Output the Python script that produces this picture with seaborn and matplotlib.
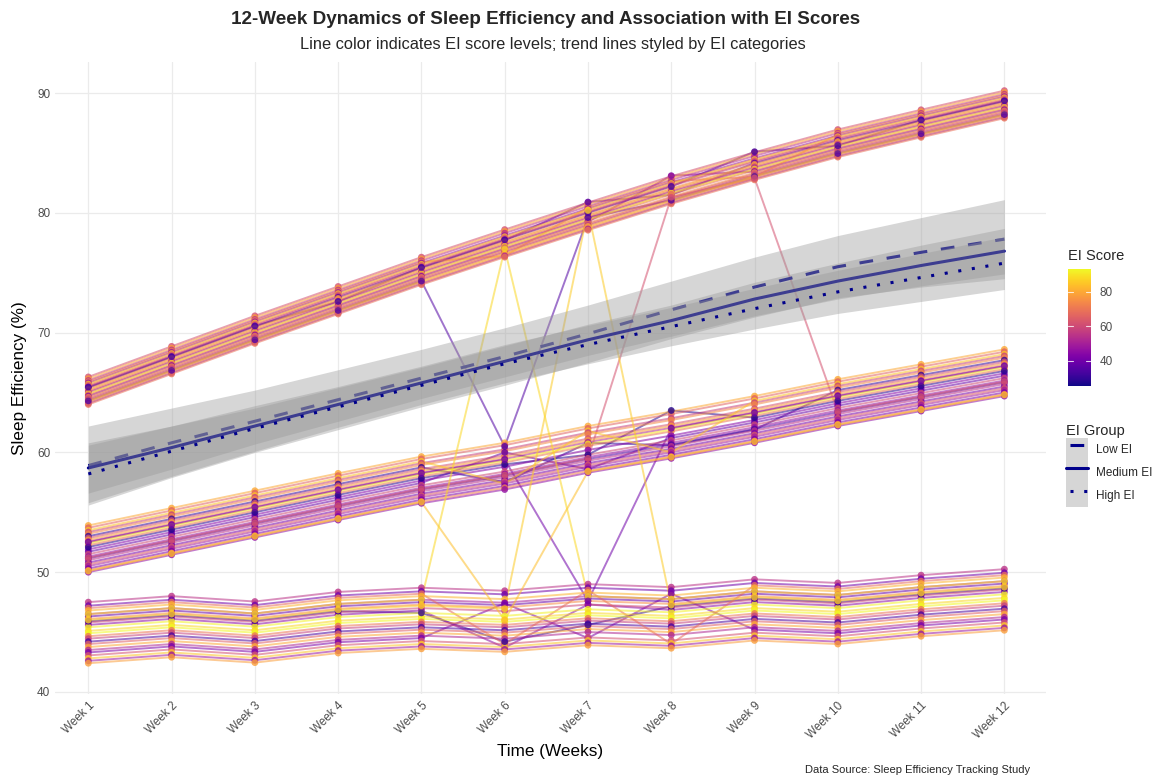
import matplotlib
matplotlib.use("Agg")
import matplotlib.pyplot as plt
import matplotlib.cm as cm
from matplotlib.colors import Normalize
from matplotlib.lines import Line2D
from matplotlib.patches import Patch
from matplotlib.legend_handler import HandlerTuple
import pandas as pd
import seaborn as sns

# ---------------- data ----------------
weeks = list(range(1, 13))
week_labels = [f"Week {i}" for i in weeks]

# cluster centre trajectories (sleep efficiency, %)
top_base = [65.2, 67.75, 70.3, 72.75, 75.2, 77.5, 79.75, 81.95, 83.95, 85.85, 87.5, 89.1]
mid_base = [52.0, 53.45, 54.9, 56.35, 57.75, 58.9, 60.3, 61.5, 62.8, 64.2, 65.45, 66.7]
bot_base = [45.0, 45.5, 45.05, 45.85, 46.2, 45.95, 46.5, 46.25, 46.9, 46.6, 47.25, 47.75]

# subject offsets from the cluster centre and their EI scores
top_offsets = [1.1, 0.95, 0.8, 0.7, 0.6, 0.5, 0.4, 0.3, 0.2, 0.1, 0.0, -0.1,
               -0.2, -0.3, -0.4, -0.5, -0.6, -0.7, -0.8, -0.9, -1.0, -1.1, -1.2, 0.25]
top_ei = [62, 78, 55, 70, 48, 84, 66, 58, 36, 74, 80, 60,
          52, 88, 68, 44, 72, 64, 57, 82, 76, 50, 69, 33]

mid_offsets = [1.9, 1.7, 1.5, 1.35, 1.2, 1.0, 0.85, 0.7, 0.55, 0.4, 0.25, -0.1,
               -0.3, -0.5, -0.7, -0.85, -1.0, -1.2, -1.35, -1.5, -1.7, -1.85, -2.0, 0.1]
mid_ei = [80, 66, 85, 58, 74, 30, 62, 78, 52, 90, 70, 44,
          38, 60, 47, 35, 55, 41, 64, 50, 42, 72, 46, 28]

bot_offsets = [2.5, 2.2, 2.0, 1.8, 1.5, 1.3, 1.1, 0.8, 0.6, 0.4, 0.1, -0.1,
               -0.35, -0.55, -0.8, -1.0, -1.25, -1.5, -1.7, -1.95, -2.2, -2.4, -2.6, 0.9]
bot_ei = [55, 40, 68, 82, 50, 38, 75, 60, 45, 92, 88, 94,
          70, 58, 33, 65, 80, 52, 42, 62, 85, 48, 78, 30]

# individual week values that depart from a subject's usual track: (cluster, subject, week, value)
tweaks = [
    ("top", 8, 7, 80.9), ("top", 8, 8, 81.5),
    ("top", 3, 6, 76.4), ("top", 3, 9, 83.0),
    ("top", 23, 4, 72.6), ("top", 23, 9, 85.1), ("top", 23, 10, 85.6),
    ("top", 15, 8, 83.1),
    ("mid", 5, 6, 57.5), ("mid", 5, 7, 60.8), ("mid", 5, 8, 60.6), ("mid", 5, 9, 61.9),
    ("mid", 23, 7, 59.8), ("mid", 23, 8, 63.5),
    ("mid", 12, 6, 60.0), ("mid", 12, 7, 58.6),
    ("mid", 2, 6, 57.4), ("mid", 2, 8, 60.0),
    ("bot", 8, 6, 43.7), ("bot", 8, 7, 47.3),
    ("bot", 23, 5, 46.6), ("bot", 23, 6, 44.2), ("bot", 23, 7, 45.6),
    ("bot", 18, 6, 47.4), ("bot", 18, 7, 44.5), ("bot", 18, 8, 48.2),
    ("bot", 2, 6, 44.0), ("bot", 2, 8, 44.0),
]

# subjects that jump between clusters
jump_values = [
    [64.3, 66.85, 69.4, 71.85, 74.3, 60.5, 79.6, 81.05, 83.05, 84.95, 86.6, 88.2],
    [46.5, 47.0, 46.55, 47.35, 47.7, 77.0, 48.0, 47.75, 48.4, 48.1, 48.75, 49.25],
    [50.1, 51.55, 53.0, 54.45, 55.85, 46.0, 58.4, 59.6, 60.9, 62.3, 63.55, 64.8],
    [46.0, 46.5, 46.05, 46.85, 47.2, 46.95, 80.2, 47.25, 47.9, 47.6, 48.25, 48.75],
    [52.5, 53.95, 55.4, 56.85, 58.25, 59.4, 47.6, 62.0, 63.3, 64.7, 65.95, 67.2],
    [51.2, 52.65, 54.1, 55.55, 56.95, 58.1, 59.5, 81.3, 82.9, 63.4, 64.65, 65.9],
]
jump_ei = [35, 88, 84, 86, 40, 62]

# loess trend lines per EI group and their confidence half-widths
ei_groups = ["Low EI", "Medium EI", "High EI"]
trend_low = [58.9, 60.8, 62.6, 64.4, 66.2, 68.0, 69.9, 71.9, 73.8, 75.5, 76.7, 77.8]
trend_med = [58.7, 60.4, 62.2, 64.0, 65.8, 67.6, 69.4, 71.0, 72.8, 74.3, 75.6, 76.8]
trend_high = [58.2, 60.1, 62.0, 63.8, 65.6, 67.4, 69.0, 70.5, 72.0, 73.4, 74.6, 75.8]
ci_low = [3.3, 2.9, 2.6, 2.5, 2.4, 2.4, 2.4, 2.4, 2.5, 2.6, 2.9, 3.3]
ci_med = [2.1, 1.8, 1.5, 1.4, 1.3, 1.3, 1.3, 1.3, 1.4, 1.5, 1.7, 1.9]
ci_high = [2.4, 2.1, 1.9, 1.7, 1.6, 1.6, 1.6, 1.6, 1.7, 1.8, 2.0, 2.2]

ei_min, ei_max = 25.5, 93.3
colorbar_ticks = [40, 60, 80]

# ---------------- build long table ----------------
records = []
sid = 0


def add_subject(vals, ei):
    global sid
    for w, v in zip(weeks, vals):
        records.append({"subject": sid, "week": w, "eff": v, "ei": ei})
    sid += 1


for name, base, offs, eis in [("top", top_base, top_offsets, top_ei),
                              ("mid", mid_base, mid_offsets, mid_ei),
                              ("bot", bot_base, bot_offsets, bot_ei)]:
    for i, (o, e) in enumerate(zip(offs, eis)):
        vals = [b + o for b in base]
        for c, idx, wk, val in tweaks:
            if c == name and idx == i:
                vals[wk - 1] = val
        add_subject(vals, e)

for vals, e in zip(jump_values, jump_ei):
    add_subject(vals, e)

df = pd.DataFrame(records)

# ---------------- plot ----------------
sns.set_theme(style="white")
plt.rcParams["font.family"] = ["Liberation Sans", "DejaVu Sans"]

W, H = 1158, 778
fig = plt.figure(figsize=(W / 100, H / 100), dpi=100)
pl, pr, pt, pb = 55, 1046, 62, 694
ax = fig.add_axes([pl / W, 1 - pb / H, (pr - pl) / W, (pb - pt) / H])

norm = (ei_min, ei_max)
sns.lineplot(data=df, x="week", y="eff", hue="ei", units="subject", estimator=None,
             palette="plasma", hue_norm=norm, alpha=0.55, linewidth=1.4,
             legend=False, ax=ax, sort=False)
sns.scatterplot(data=df, x="week", y="eff", hue="ei", palette="plasma", hue_norm=norm,
                s=24, alpha=0.8, linewidth=0, legend=False, ax=ax, zorder=3)

styles = {"Low EI": (0, (4.5, 4.5)), "Medium EI": "-", "High EI": (0, (1, 3.5))}
key_styles = {"Low EI": (7.7, (4.5, 4.5)), "Medium EI": "-", "High EI": (3.2, (1, 3.5))}
trends = {"Low EI": (trend_low, ci_low), "Medium EI": (trend_med, ci_med),
          "High EI": (trend_high, ci_high)}
z = 4
for g in ei_groups:
    m, h = trends[g]
    lo = [a - b for a, b in zip(m, h)]
    hi = [a + b for a, b in zip(m, h)]
    ax.fill_between(weeks, lo, hi, color="#999999", alpha=0.4, linewidth=0, zorder=z)
    sns.lineplot(x=weeks, y=m, color="#00008B", linewidth=2.2, ax=ax, zorder=z + 0.5,
                 linestyle=styles[g], dash_capstyle="butt")
    z += 1

ax.set_xlim(0.6, 12.5)
ax.set_ylim(39.83, 92.59)
ax.set_xticks(weeks)
ax.set_xticklabels(week_labels, rotation=45, ha="right", rotation_mode="anchor")
ax.set_yticks([40, 50, 60, 70, 80, 90])
ax.tick_params(axis="both", length=0, labelsize=8.5, labelcolor="#4d4d4d")
ax.tick_params(axis="x", pad=4)
ax.grid(True, color="#ebebeb", linewidth=0.9)
ax.set_axisbelow(True)
for s in ax.spines.values():
    s.set_visible(False)
ax.set_xlabel("Time (Weeks)", fontsize=12.3, color="black", labelpad=2)
ax.set_ylabel("Sleep Efficiency (%)", fontsize=12.3, color="black", labelpad=7)

fig.text(546 / W, 1 - 20 / H, "12-Week Dynamics of Sleep Efficiency and Association with EI Scores",
         ha="center", va="center", fontsize=13.6, fontweight="bold")
fig.text(553 / W, 1 - 45 / H, "Line color indicates EI score levels; trend lines styled by EI categories",
         ha="center", va="center", fontsize=11.8)
fig.text(1030 / W, 1 - 770 / H, "Data Source: Sleep Efficiency Tracking Study",
         ha="right", va="center", fontsize=8)

# colorbar
cax = fig.add_axes([1068 / W, 1 - 386 / H, 23 / W, 117 / H])
sm = cm.ScalarMappable(norm=Normalize(ei_min, ei_max), cmap="plasma")
cb = fig.colorbar(sm, cax=cax, ticks=colorbar_ticks)
cb.outline.set_visible(False)
cax.tick_params(length=0, labelsize=8.5, labelcolor="#4d4d4d", pad=6)
for t in colorbar_ticks:
    cax.axhline(t, xmin=0, xmax=0.2, color="white", lw=0.8, alpha=0.8)
    cax.axhline(t, xmin=0.8, xmax=1, color="white", lw=0.8, alpha=0.8)
fig.text(1068 / W, 1 - 256 / H, "EI Score", ha="left", va="center", fontsize=10.5)

# EI group legend
handles = []
for g in ei_groups:
    handles.append((Patch(facecolor="#d6d6d6", edgecolor="none"),
                    Line2D([], [], color="#00008B", lw=2.2, linestyle=key_styles[g],
                           dash_capstyle="butt")))
leg = fig.legend(handles=handles, labels=ei_groups, title="EI Group",
                 handler_map={tuple: HandlerTuple(ndivide=1, pad=0)},
                 loc="upper left", bbox_to_anchor=(1066 / W, 1 - 424 / H),
                 frameon=False, fontsize=8.5, title_fontsize=10.5,
                 handlelength=1.9, handleheight=2.6, labelspacing=0,
                 handletextpad=0.6, borderpad=0, borderaxespad=0, alignment="left")

fig.savefig("out.png", dpi=100)
